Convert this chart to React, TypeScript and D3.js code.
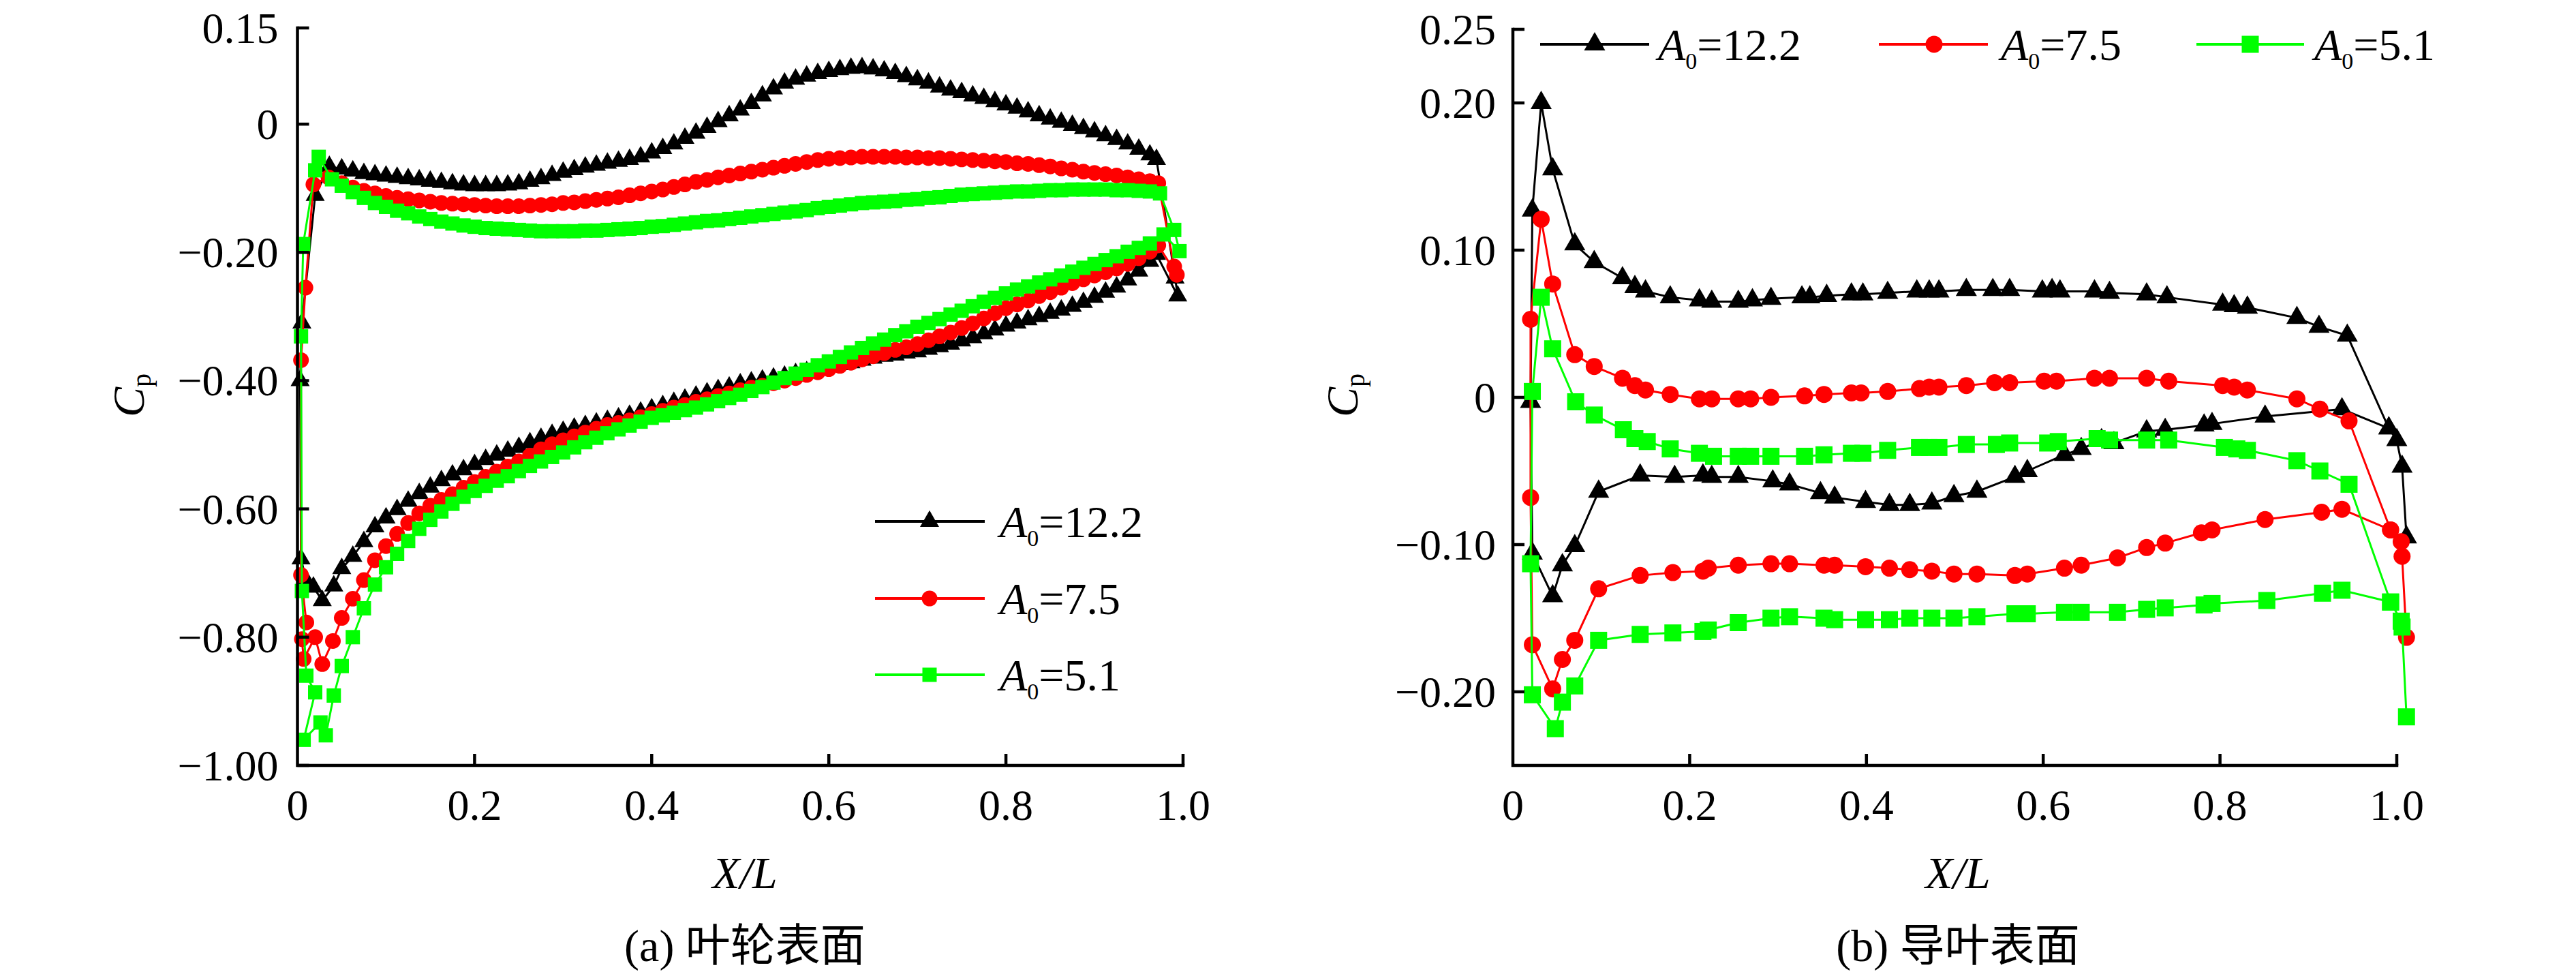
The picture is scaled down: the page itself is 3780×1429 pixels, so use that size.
import React from 'react';
import * as d3 from 'd3';

// ---------- shared text ----------
const SERIES_LABELS = ['12.2', '7.5', '5.1'];
const SERIES_COLORS = ['#000000', '#ff0000', '#00ff00'];
const X_TICKS = [0, 0.2, 0.4, 0.6, 0.8, 1.0];
const X_TICK_LABELS = ['0', '0.2', '0.4', '0.6', '0.8', '1.0'];
const L_Y_TICKS = [0.15, 0, -0.2, -0.4, -0.6, -0.8, -1.0];
const L_Y_TICK_LABELS = ['0.15', '0', '\u22120.20', '\u22120.40', '\u22120.60', '\u22120.80', '\u22121.00'];
const R_Y_TICKS = [0.25, 0.2, 0.1, 0, -0.1, -0.2];
const R_Y_TICK_LABELS = ['0.25', '0.20', '0.10', '0', '\u22120.10', '\u22120.20'];

// ---------- (a) impeller surface: stations along X/L ----------
const XS = [
  0.05, 0.0625, 0.075, 0.0875, 0.1, 0.1125, 0.125, 0.1375, 0.15, 0.1625,
  0.175, 0.1875, 0.2, 0.2125, 0.225, 0.2375, 0.25, 0.2625, 0.275, 0.2875,
  0.3, 0.3125, 0.325, 0.3375, 0.35, 0.3625, 0.375, 0.3875, 0.4, 0.4125,
  0.425, 0.4375, 0.45, 0.4625, 0.475, 0.4875, 0.5, 0.5125, 0.525, 0.5375,
  0.55, 0.5625, 0.575, 0.5875, 0.6, 0.6125, 0.625, 0.6375, 0.65, 0.6625,
  0.675, 0.6875, 0.7, 0.7125, 0.725, 0.7375, 0.75, 0.7625, 0.775, 0.7875,
  0.8, 0.8125, 0.825, 0.8375, 0.85, 0.8625, 0.875, 0.8875, 0.9, 0.9125,
  0.925, 0.9375, 0.95, 0.9625,
];

const L_BLACK_UP = [
  -0.070, -0.073, -0.077, -0.079, -0.081, -0.083, -0.085, -0.087, -0.089, -0.091,
  -0.093, -0.095, -0.096, -0.096, -0.096, -0.095, -0.093, -0.089, -0.085, -0.080,
  -0.075, -0.071, -0.067, -0.064, -0.061, -0.058, -0.055, -0.051, -0.045, -0.038,
  -0.031, -0.022, -0.014, -0.005, 0.004, 0.013, 0.022, 0.032, 0.044, 0.055,
  0.064, 0.070, 0.075, 0.079, 0.082, 0.085, 0.087, 0.088, 0.086, 0.083,
  0.079, 0.074, 0.069, 0.064, 0.058, 0.053, 0.049, 0.044, 0.040, 0.035,
  0.030, 0.025, 0.019, 0.013, 0.008, 0.003, -0.002, -0.007, -0.012, -0.018,
  -0.024, -0.031, -0.039, -0.048,
];
const L_RED_UP = [
  -0.092, -0.099, -0.104, -0.108, -0.112, -0.115, -0.117, -0.119, -0.121, -0.123,
  -0.124, -0.125, -0.126, -0.127, -0.128, -0.128, -0.128, -0.127, -0.126, -0.125,
  -0.123, -0.122, -0.120, -0.118, -0.116, -0.114, -0.111, -0.108, -0.105, -0.102,
  -0.098, -0.094, -0.090, -0.087, -0.083, -0.080, -0.077, -0.074, -0.071, -0.068,
  -0.065, -0.062, -0.059, -0.056, -0.054, -0.053, -0.052, -0.051, -0.051, -0.051,
  -0.051, -0.052, -0.052, -0.053, -0.053, -0.054, -0.055, -0.056, -0.057, -0.058,
  -0.059, -0.061, -0.062, -0.064, -0.066, -0.069, -0.071, -0.074, -0.076, -0.078,
  -0.080, -0.083, -0.086, -0.089,
];
const L_GREEN_UP = [
  -0.096, -0.106, -0.115, -0.123, -0.129, -0.135, -0.139, -0.144, -0.148, -0.152,
  -0.155, -0.158, -0.160, -0.162, -0.163, -0.164, -0.165, -0.166, -0.167, -0.167,
  -0.167, -0.167, -0.166, -0.166, -0.165, -0.164, -0.163, -0.162, -0.160, -0.159,
  -0.157, -0.155, -0.153, -0.151, -0.150, -0.148, -0.146, -0.144, -0.142, -0.140,
  -0.138, -0.136, -0.134, -0.131, -0.129, -0.127, -0.125, -0.123, -0.122, -0.121,
  -0.120, -0.118, -0.117, -0.115, -0.114, -0.112, -0.110, -0.109, -0.108, -0.107,
  -0.106, -0.105, -0.105, -0.104, -0.103, -0.103, -0.102, -0.102, -0.102, -0.102,
  -0.103, -0.103, -0.104, -0.105,
];
const L_BLACK_LOW = [
  -0.693, -0.674, -0.651, -0.628, -0.614, -0.601, -0.588, -0.576, -0.566, -0.556,
  -0.547, -0.539, -0.531, -0.523, -0.516, -0.510, -0.504, -0.497, -0.490, -0.484,
  -0.479, -0.474, -0.470, -0.466, -0.462, -0.458, -0.454, -0.449, -0.444, -0.439,
  -0.434, -0.429, -0.424, -0.419, -0.414, -0.410, -0.405, -0.402, -0.399, -0.396,
  -0.393, -0.389, -0.386, -0.382, -0.378, -0.375, -0.372, -0.368, -0.365, -0.362,
  -0.360, -0.357, -0.355, -0.351, -0.347, -0.343, -0.338, -0.333, -0.327, -0.321,
  -0.315, -0.310, -0.305, -0.300, -0.295, -0.290, -0.284, -0.278, -0.270, -0.262,
  -0.254, -0.243, -0.229, -0.214,
];
const L_RED_LOW = [
  -0.770, -0.740, -0.711, -0.680, -0.658, -0.639, -0.622, -0.607, -0.595, -0.586,
  -0.577, -0.567, -0.558, -0.550, -0.542, -0.534, -0.526, -0.517, -0.507, -0.499,
  -0.493, -0.487, -0.481, -0.475, -0.469, -0.466, -0.462, -0.457, -0.452, -0.447,
  -0.442, -0.438, -0.433, -0.429, -0.424, -0.420, -0.415, -0.411, -0.408, -0.404,
  -0.400, -0.396, -0.391, -0.387, -0.382, -0.377, -0.372, -0.367, -0.362, -0.357,
  -0.352, -0.348, -0.343, -0.337, -0.331, -0.325, -0.318, -0.311, -0.303, -0.295,
  -0.287, -0.281, -0.275, -0.268, -0.262, -0.255, -0.248, -0.242, -0.236, -0.231,
  -0.225, -0.218, -0.209, -0.199,
];
const L_GREEN_LOW = [
  -0.845, -0.800, -0.755, -0.718, -0.691, -0.670, -0.650, -0.631, -0.617, -0.604,
  -0.592, -0.581, -0.572, -0.564, -0.556, -0.549, -0.541, -0.533, -0.526, -0.519,
  -0.512, -0.504, -0.496, -0.489, -0.482, -0.476, -0.470, -0.464, -0.458, -0.454,
  -0.450, -0.446, -0.442, -0.437, -0.432, -0.427, -0.422, -0.416, -0.410, -0.403,
  -0.396, -0.389, -0.383, -0.376, -0.370, -0.363, -0.356, -0.349, -0.342, -0.336,
  -0.329, -0.323, -0.316, -0.310, -0.304, -0.297, -0.291, -0.284, -0.277, -0.271,
  -0.264, -0.258, -0.253, -0.247, -0.242, -0.236, -0.230, -0.224, -0.218, -0.212,
  -0.206, -0.199, -0.193, -0.186,
];

// leading-edge and trailing-edge points [X/L, Cp]
const L_BLACK_LE_UP = [[0.003, -0.40], [0.005, -0.31], [0.020, -0.111], [0.036, -0.066]];
const L_BLACK_TE = [[0.970, -0.055], [0.991, -0.240], [0.994, -0.268], [0.970, -0.203]];
const L_BLACK_LE_LOW = [[0.004, -0.678], [0.010, -0.712], [0.018, -0.722], [0.028, -0.743], [0.041, -0.720]];
const L_RED_LE_UP = [[0.004, -0.368], [0.009, -0.255], [0.018, -0.094], [0.035, -0.083]];
const L_RED_TE = [[0.972, -0.092], [0.990, -0.222], [0.993, -0.235], [0.972, -0.189]];
const L_RED_LE_LOW = [[0.004, -0.703], [0.010, -0.777], [0.005, -0.803], [0.007, -0.834], [0.020, -0.800], [0.028, -0.842], [0.040, -0.806]];
const L_GREEN_LE_UP = [[0.004, -0.331], [0.0065, -0.187], [0.020, -0.072], [0.024, -0.051], [0.039, -0.086]];
const L_GREEN_TE = [[0.974, -0.108], [0.990, -0.165], [0.996, -0.198], [0.978, -0.172]];
const L_GREEN_LE_LOW = [[0.005, -0.728], [0.010, -0.860], [0.020, -0.886], [0.007, -0.960], [0.026, -0.933], [0.032, -0.953], [0.041, -0.891]];

// ---------- (b) guide vane surface ----------
const R_BLACK_X = [
  0.991, 0.938, 0.851, 0.791, 0.782, 0.738, 0.717, 0.680, 0.666, 0.643, 0.624, 0.582, 0.568, 0.525,
  0.499, 0.474, 0.449, 0.426, 0.399, 0.364, 0.348, 0.313, 0.294, 0.255, 0.225, 0.215, 0.183, 0.144,
  0.097, 0.070, 0.056, 0.045, 0.022, 0.020, 0.022, 0.032, 0.045, 0.070, 0.092, 0.124, 0.138, 0.150,
  0.178, 0.211, 0.225, 0.255, 0.271, 0.292, 0.327, 0.336, 0.355, 0.383, 0.396, 0.424, 0.457, 0.471,
  0.482, 0.513, 0.543, 0.562, 0.599, 0.610, 0.619, 0.658, 0.675, 0.717, 0.740, 0.803, 0.816, 0.831,
  0.887, 0.912, 0.944, 0.991, 1.000, 1.006, 1.011,
];
const R_BLACK_Y = [
  -0.021, -0.008, -0.013, -0.018, -0.019, -0.022, -0.023, -0.031, -0.029, -0.035, -0.039, -0.050, -0.054, -0.064,
  -0.067, -0.072, -0.073, -0.073, -0.071, -0.068, -0.065, -0.059, -0.057, -0.054, -0.054, -0.053, -0.054, -0.053,
  -0.064, -0.101, -0.114, -0.135, -0.106, -0.003, 0.127, 0.200, 0.155, 0.104, 0.092, 0.081, 0.075, 0.072,
  0.068, 0.066, 0.065, 0.065, 0.066, 0.067, 0.068, 0.068, 0.069, 0.070, 0.070, 0.071, 0.072, 0.072,
  0.072, 0.073, 0.073, 0.073, 0.072, 0.073, 0.072, 0.072, 0.071, 0.070, 0.068, 0.063, 0.062, 0.061,
  0.054, 0.048, 0.042, -0.021, -0.029, -0.047, -0.095,
];
const R_RED_X = [
  0.993, 0.938, 0.915, 0.851, 0.791, 0.779, 0.738, 0.717, 0.684, 0.643, 0.624, 0.582, 0.568, 0.525,
  0.499, 0.474, 0.449, 0.426, 0.399, 0.364, 0.352, 0.313, 0.292, 0.255, 0.221, 0.215, 0.181, 0.144,
  0.097, 0.070, 0.056, 0.045, 0.022, 0.020, 0.020, 0.032, 0.045, 0.070, 0.092, 0.124, 0.138, 0.150,
  0.178, 0.211, 0.225, 0.255, 0.269, 0.292, 0.330, 0.352, 0.383, 0.394, 0.424, 0.460, 0.471, 0.482,
  0.513, 0.545, 0.562, 0.601, 0.615, 0.658, 0.675, 0.717, 0.742, 0.803, 0.816, 0.831, 0.887, 0.913,
  0.946, 0.993, 1.005, 1.006, 1.011,
];
const R_RED_Y = [
  -0.090, -0.076, -0.078, -0.083, -0.090, -0.092, -0.099, -0.102, -0.109, -0.114, -0.116, -0.120, -0.121, -0.120,
  -0.120, -0.118, -0.117, -0.116, -0.115, -0.114, -0.114, -0.113, -0.113, -0.114, -0.116, -0.118, -0.119, -0.121,
  -0.130, -0.165, -0.178, -0.198, -0.168, -0.068, 0.053, 0.121, 0.077, 0.029, 0.021, 0.013, 0.008, 0.005,
  0.002, -0.001, -0.001, -0.001, -0.001, 0.000, 0.001, 0.002, 0.003, 0.003, 0.004, 0.006, 0.007, 0.007,
  0.008, 0.010, 0.010, 0.011, 0.011, 0.013, 0.013, 0.013, 0.011, 0.008, 0.007, 0.005, -0.001, -0.008,
  -0.016, -0.090, -0.098, -0.108, -0.163,
];
const R_GREEN_X = [
  0.993, 0.938, 0.916, 0.853, 0.791, 0.782, 0.738, 0.717, 0.684, 0.643, 0.624, 0.582, 0.568, 0.525,
  0.499, 0.474, 0.449, 0.426, 0.399, 0.364, 0.352, 0.313, 0.292, 0.255, 0.221, 0.215, 0.181, 0.144,
  0.097, 0.070, 0.056, 0.048, 0.022, 0.020, 0.022, 0.032, 0.045, 0.071, 0.092, 0.125, 0.138, 0.152,
  0.178, 0.211, 0.227, 0.255, 0.269, 0.292, 0.330, 0.352, 0.383, 0.396, 0.424, 0.460, 0.471, 0.482,
  0.513, 0.547, 0.562, 0.605, 0.617, 0.661, 0.675, 0.717, 0.742, 0.805, 0.819, 0.831, 0.887, 0.913,
  0.946, 0.993, 1.005, 1.006, 1.011,
];
const R_GREEN_Y = [
  -0.139, -0.131, -0.133, -0.138, -0.140, -0.141, -0.143, -0.144, -0.146, -0.146, -0.146, -0.147, -0.147, -0.149,
  -0.150, -0.150, -0.150, -0.151, -0.151, -0.151, -0.150, -0.149, -0.150, -0.153, -0.158, -0.159, -0.160, -0.161,
  -0.165, -0.196, -0.207, -0.225, -0.202, -0.113, 0.004, 0.068, 0.033, -0.003, -0.012, -0.022, -0.028, -0.030,
  -0.035, -0.038, -0.040, -0.040, -0.040, -0.040, -0.040, -0.039, -0.038, -0.038, -0.036, -0.034, -0.034, -0.034,
  -0.032, -0.032, -0.031, -0.031, -0.030, -0.028, -0.029, -0.029, -0.029, -0.034, -0.035, -0.036, -0.043, -0.050,
  -0.059, -0.139, -0.152, -0.156, -0.217,
];

const SERIF = "'Liberation Serif', 'Times New Roman', serif";
const CAPTION_FONT = "'Liberation Serif', 'Noto Sans CJK SC', serif";

type Pt = [number, number];

function leftLoop(leUp: number[][], up: number[], te: number[][], low: number[], leLow: number[][]): Pt[] {
  const upper = XS.map((x, i) => [x, up[i]] as Pt);
  const lower = XS.map((x, i) => [x, low[i]] as Pt).reverse();
  return [
    ...(leUp as Pt[]),
    ...upper,
    ...(te as Pt[]),
    ...lower,
    ...(leLow.slice().reverse() as Pt[]),
  ];
}

function LegendLabel({ x, y, value, size }: { x: number; y: number; value: string; size: number }) {
  return (
    <text x={x} y={y} fontFamily={SERIF} fontSize={size} fill="#000">
      <tspan fontStyle="italic">A</tspan>
      <tspan fontSize={34} dy={13}>0</tspan>
      <tspan dy={-13}>={value}</tspan>
    </text>
  );
}

export default function App() {
  const lx = d3.scaleLinear().domain([0, 1]).range([436.5, 1736]);
  const ly = d3.scaleLinear().domain([-1, 0.15]).range([1123, 41]);
  const rx = d3.scaleLinear().domain([0, 1]).range([2220, 3517]);
  const ry = d3.scaleLinear().domain([-0.25, 0.25]).range([1123, 43]);

  const symTypes = [d3.symbolTriangle, d3.symbolCircle, d3.symbolSquare];
  const leftSizes = [339, 415, 441];
  const rightSizes = [416, 491, 625];
  const leftSym = symTypes.map((t, i) => d3.symbol(t, leftSizes[i])() as string);
  const rightSym = symTypes.map((t, i) => d3.symbol(t, rightSizes[i])() as string);

  const leftSeries: Pt[][] = [
    leftLoop(L_BLACK_LE_UP, L_BLACK_UP, L_BLACK_TE, L_BLACK_LOW, L_BLACK_LE_LOW),
    leftLoop(L_RED_LE_UP, L_RED_UP, L_RED_TE, L_RED_LOW, L_RED_LE_LOW),
    leftLoop(L_GREEN_LE_UP, L_GREEN_UP, L_GREEN_TE, L_GREEN_LOW, L_GREEN_LE_LOW),
  ];
  const rightSeries: Pt[][] = [
    R_BLACK_X.map((x, i) => [x, R_BLACK_Y[i]] as Pt),
    R_RED_X.map((x, i) => [x, R_RED_Y[i]] as Pt),
    R_GREEN_X.map((x, i) => [x, R_GREEN_Y[i]] as Pt),
  ];

  const lLine = d3.line<Pt>().x((d) => lx(d[0])).y((d) => ly(d[1]));
  const rLine = d3.line<Pt>().x((d) => rx(d[0])).y((d) => ry(d[1]));

  const axisW = 4.5;
  const tickLen = 17;
  const tickFont = 64;

  const drawAxes = (
    xs: d3.ScaleLinear<number, number>,
    ys: d3.ScaleLinear<number, number>,
    yTicks: number[],
    yLabels: string[],
    labelGap: number,
  ) => {
    const x0 = xs(0);
    const yTop = ys.range()[1];
    const yBot = ys.range()[0];
    const x1 = xs(1);
    return (
      <g>
        <path d={`M${x0},${yTop}V${yBot}H${x1}`} fill="none" stroke="#000" strokeWidth={axisW} strokeLinecap="square" />
        {yTicks.map((t, i) => (
          <g key={'y' + i}>
            <line x1={x0} x2={x0 + tickLen} y1={ys(t)} y2={ys(t)} stroke="#000" strokeWidth={axisW} />
            <text x={x0 - labelGap} y={ys(t) + 22} textAnchor="end" fontFamily={SERIF} fontSize={tickFont} fill="#000">
              {yLabels[i]}
            </text>
          </g>
        ))}
        {X_TICKS.map((t, i) => (
          <g key={'x' + i}>
            {t > 0 && <line x1={xs(t)} x2={xs(t)} y1={yBot} y2={yBot - tickLen} stroke="#000" strokeWidth={axisW} />}
            <text x={xs(t)} y={1203} textAnchor="middle" fontFamily={SERIF} fontSize={tickFont} fill="#000">
              {X_TICK_LABELS[i]}
            </text>
          </g>
        ))}
      </g>
    );
  };

  const leftLegendRows = [765, 878, 990];
  const rightLegendItems = [
    { x1: 2260, x2: 2420, m: 2340, lx: 2433 },
    { x1: 2757, x2: 2917, m: 2838, lx: 2936 },
    { x1: 3223, x2: 3381, m: 3302, lx: 3396 },
  ];

  return (
    <svg
      width={3780}
      height={1429}
      viewBox="0 0 3780 1429"
      style={{ position: 'absolute', left: 0, top: 0, background: '#fff' }}
    >
      <rect x={0} y={0} width={3780} height={1429} fill="#fff" />

      {/* ---------- (a) ---------- */}
      {leftSeries.map((pts, si) => (
        <g key={'ls' + si}>
          <path d={(lLine(pts) as string) + 'Z'} fill="none" stroke={SERIES_COLORS[si]} strokeWidth={3} />
          {pts.map((p, i) => (
            <path key={i} d={leftSym[si]} transform={`translate(${lx(p[0])},${ly(p[1])})`} fill={SERIES_COLORS[si]} />
          ))}
        </g>
      ))}
      {drawAxes(lx, ly, L_Y_TICKS, L_Y_TICK_LABELS, 28)}
      {leftLegendRows.map((y, si) => (
        <g key={'ll' + si}>
          <line x1={1284} x2={1445} y1={y} y2={y} stroke={SERIES_COLORS[si]} strokeWidth={4} />
          <path d={leftSym[si]} transform={`translate(1364,${y})`} fill={SERIES_COLORS[si]} />
          <LegendLabel x={1467} y={y + 23} value={SERIES_LABELS[si]} size={66} />
        </g>
      ))}
      <text x={1093} y={1303} textAnchor="middle" fontFamily={SERIF} fontSize={66} fontStyle="italic">X/L</text>
      <text transform="translate(211,580) rotate(-90)" textAnchor="middle" fontFamily={SERIF} fontSize={66}>
        <tspan fontStyle="italic">C</tspan>
        <tspan fontSize={40} dy={10}>p</tspan>
      </text>
      <text x={1093} y={1410} textAnchor="middle" fontFamily={CAPTION_FONT} fontSize={66}>(a) 叶轮表面</text>

      {/* ---------- (b) ---------- */}
      {rightSeries.map((pts, si) => (
        <g key={'rs' + si}>
          <path d={rLine(pts) as string} fill="none" stroke={SERIES_COLORS[si]} strokeWidth={3} />
          {pts.map((p, i) => (
            <path key={i} d={rightSym[si]} transform={`translate(${rx(p[0])},${ry(p[1])})`} fill={SERIES_COLORS[si]} />
          ))}
        </g>
      ))}
      {drawAxes(rx, ry, R_Y_TICKS, R_Y_TICK_LABELS, 25)}
      {rightLegendItems.map((it, si) => (
        <g key={'rl' + si}>
          <line x1={it.x1} x2={it.x2} y1={65} y2={65} stroke={SERIES_COLORS[si]} strokeWidth={4} />
          <path d={rightSym[si]} transform={`translate(${it.m},65)`} fill={SERIES_COLORS[si]} />
          <LegendLabel x={it.lx} y={88} value={SERIES_LABELS[si]} size={66} />
        </g>
      ))}
      <text x={2873} y={1303} textAnchor="middle" fontFamily={SERIF} fontSize={66} fontStyle="italic">X/L</text>
      <text transform="translate(1992,580) rotate(-90)" textAnchor="middle" fontFamily={SERIF} fontSize={66}>
        <tspan fontStyle="italic">C</tspan>
        <tspan fontSize={40} dy={10}>p</tspan>
      </text>
      <text x={2873} y={1410} textAnchor="middle" fontFamily={CAPTION_FONT} fontSize={66}>(b) 导叶表面</text>
    </svg>
  );
}
